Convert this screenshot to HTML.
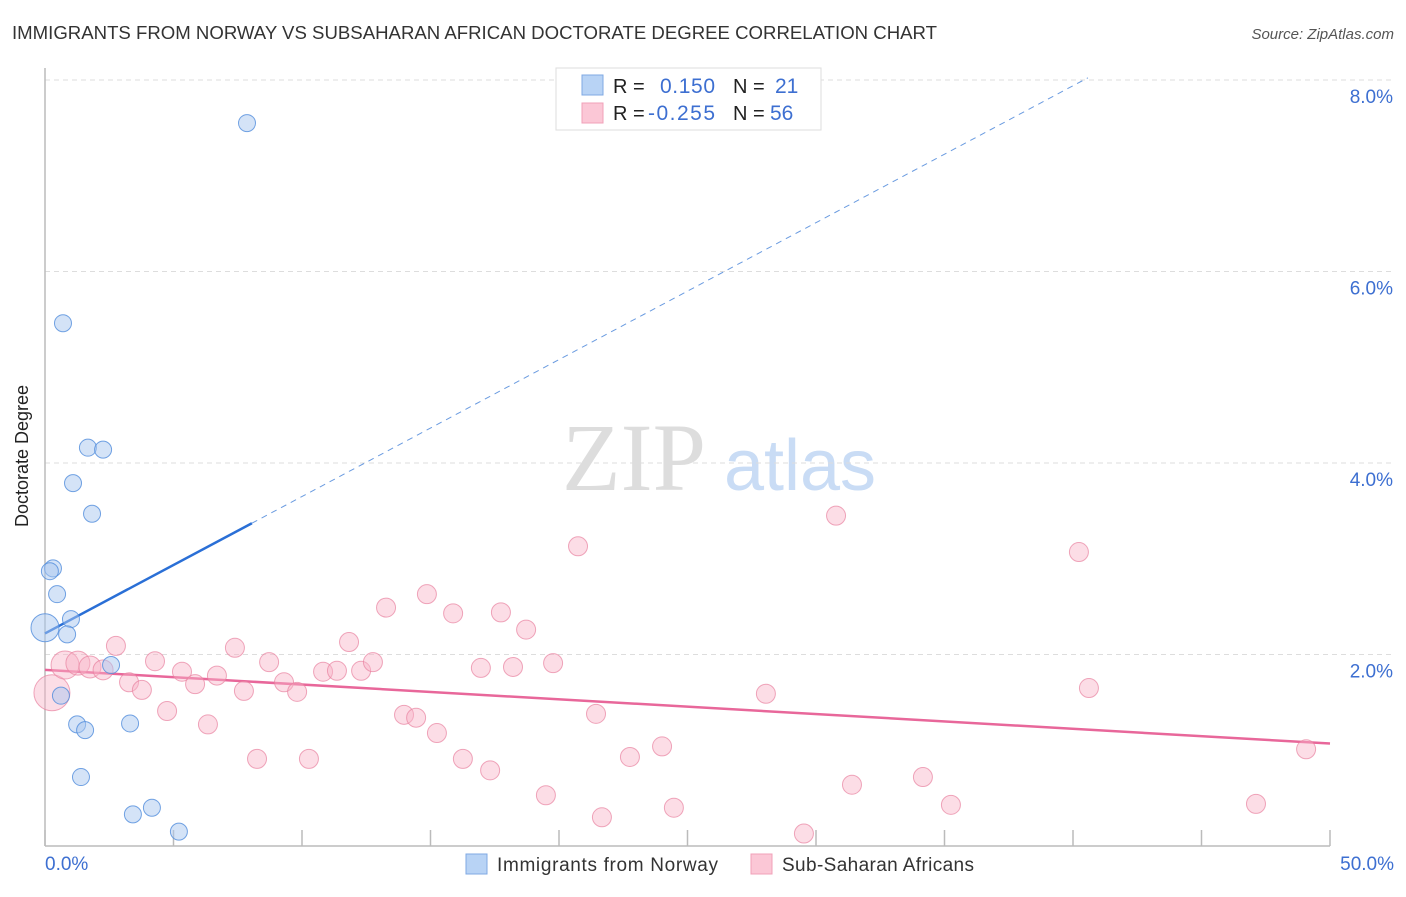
<!DOCTYPE html>
<html><head><meta charset="utf-8"><style>
body{margin:0;background:#fff;width:1406px;height:892px;overflow:hidden;font-family:"Liberation Sans",sans-serif}
</style></head><body>
<svg width="1406" height="892" xmlns="http://www.w3.org/2000/svg">
<text x="12" y="39" font-size="18.5" fill="#333" textLength="925" lengthAdjust="spacingAndGlyphs">IMMIGRANTS FROM NORWAY VS SUBSAHARAN AFRICAN DOCTORATE DEGREE CORRELATION CHART</text>
<text x="1394" y="39" font-size="15" fill="#555" font-style="italic" text-anchor="end">Source: ZipAtlas.com</text>
<g>
<text x="634" y="490" font-size="96" font-family="Liberation Serif,serif" fill="#ddd" text-anchor="middle">ZIP</text>
<text x="800" y="490" font-size="72" fill="#c9dcf5" text-anchor="middle">atlas</text>
</g>
<g id="grid"></g>
<g id="axes"></g>
<g id="lines"></g>
<g id="pts"></g>
<text x="28" y="456" font-size="18" fill="#222" text-anchor="middle" transform="rotate(-90 28 456)">Doctorate Degree</text>
<text x="45" y="870" font-size="19" fill="#3d6fd1">0.0%</text>
<text x="1394" y="870" font-size="19" fill="#3d6fd1" text-anchor="end">50.0%</text>
<g>
<rect x="556" y="68" width="265" height="62" fill="#fff" stroke="#ddd"/>
<rect x="582" y="75" width="21" height="20" fill="#b8d3f5" stroke="#7fa8e3"/>
<rect x="582" y="103" width="21" height="20" fill="#fbc7d6" stroke="#f0a0b8"/>
<text x="613" y="93" font-size="20" fill="#222">R =</text><text x="660" y="93" font-size="21" fill="#3d6fd1" textLength="55">0.150</text>
<text x="733" y="93" font-size="20" fill="#222">N =</text><text x="775" y="93" font-size="21" fill="#3d6fd1">21</text>
<text x="613" y="120" font-size="20" fill="#222">R =</text><text x="648" y="120" font-size="21" fill="#3d6fd1" textLength="67">-0.255</text>
<text x="733" y="120" font-size="20" fill="#222">N =</text><text x="770" y="120" font-size="21" fill="#3d6fd1">56</text>
</g>
<g>
<rect x="466" y="854" width="21" height="20" fill="#b8d3f5" stroke="#7fa8e3"/>
<text x="497" y="871" font-size="19" fill="#333" textLength="221">Immigrants from Norway</text>
<rect x="751" y="854" width="21" height="20" fill="#fbc7d6" stroke="#f0a0b8"/>
<text x="782" y="871" font-size="19" fill="#333" textLength="192">Sub-Saharan Africans</text>
</g>
</svg>
<script>
const yTicks=[2,4,6,8];
const yTickLabels=["2.0%","4.0%","6.0%","8.0%"];
const xTicks=[0,5,10,15,20,25,30,35,40,45,50];
const blueX=[7.86,0.70,1.67,2.26,1.09,1.83,0.31,0.19,0.47,1.01,0.86,0.0,2.57,0.62,1.25,1.56,3.31,1.40,3.42,4.16,5.21];
const blueY=[7.55,5.46,4.16,4.14,3.79,3.47,2.90,2.87,2.63,2.37,2.21,2.28,1.89,1.57,1.27,1.21,1.28,0.72,0.33,0.40,0.15];
const blueR=[8.5,8.5,8.5,8.5,8.5,8.5,8.5,8.5,8.5,8.5,8.5,14,8.5,8.5,8.5,8.5,8.5,8.5,8.5,8.5,8.5];
const pinkX=[0.27,0.78,1.28,1.75,2.26,2.76,3.27,3.77,4.28,4.75,5.33,5.84,6.34,6.69,7.39,7.74,8.25,8.72,9.30,9.81,10.27,10.82,11.36,11.83,12.30,12.76,13.27,13.97,14.44,14.86,15.25,15.88,16.26,16.96,17.32,17.74,18.21,18.72,19.49,19.77,20.74,21.44,21.67,22.76,24.01,24.47,28.05,29.53,30.78,31.40,34.16,35.25,40.23,40.62,47.12,49.07];
const pinkY=[1.60,1.89,1.91,1.87,1.84,2.09,1.71,1.63,1.93,1.41,1.82,1.69,1.27,1.78,2.07,1.62,0.91,1.92,1.71,1.61,0.91,1.82,1.83,2.13,1.83,1.92,2.49,1.37,1.34,2.63,1.18,2.43,0.91,1.86,0.79,2.44,1.87,2.26,0.53,1.91,3.13,1.38,0.30,0.93,1.04,0.40,1.59,0.13,3.45,0.64,0.72,0.43,3.07,1.65,0.44,1.01];
const pinkR=[18,14,12,11,10];
const blueFit=[2.22,0.143];
const pinkFit=[1.84,-0.0154];
const X=v=>45+v*25.7, Y=v=>846-v*95.75;
const NS="http://www.w3.org/2000/svg";
function mk(tag,attrs,parent){const e=document.createElementNS(NS,tag);for(const k in attrs)e.setAttribute(k,attrs[k]);document.getElementById(parent).appendChild(e);return e;}
yTicks.forEach((t,i)=>{
 const g=mk('line',{x1:45,x2:1395,y1:Y(t),y2:Y(t),stroke:'#ddd','stroke-dasharray':'5,4'},'grid');
 
 
 const l=mk('text',{x:1393,y:Y(t)+23,'font-size':19,fill:'#3d6fd1','text-anchor':'end'},'grid');
 l.textContent=yTickLabels[i];
 
 
});
const ax=mk('line',{x1:45,x2:45,y1:68,y2:846,stroke:'#bbb','stroke-width':1.5},'axes');


const bx=mk('line',{x1:45,x2:1330,y1:846,y2:846,stroke:'#bbb','stroke-width':1.5},'axes');


xTicks.forEach(t=>{
 const k=mk('line',{x1:X(t),x2:X(t),y1:830,y2:846,stroke:'#bbb','stroke-width':1.5},'axes');
 
 
});
const bs=mk('line',{x1:X(0),y1:Y(blueFit[0]),x2:X(8.05),y2:Y(blueFit[0]+blueFit[1]*8.05),stroke:'#2a6fd6','stroke-width':2.5},'lines');


const bd=mk('line',{x1:X(8.05),y1:Y(blueFit[0]+blueFit[1]*8.05),x2:X(40.58),y2:Y(blueFit[0]+blueFit[1]*40.58),stroke:'#6a9be0','stroke-width':1,'stroke-dasharray':'6,5'},'lines');


const pl=mk('line',{x1:X(0),y1:Y(pinkFit[0]),x2:X(50),y2:Y(pinkFit[0]+pinkFit[1]*50),stroke:'#e8679a','stroke-width':2.5},'lines');


pinkX.forEach((v,i)=>{
 const c=mk('circle',{cx:X(v),cy:Y(pinkY[i]),r:pinkR[i]||9.5,fill:'rgba(248,180,200,0.45)',stroke:'rgba(232,130,160,0.7)','stroke-width':1},'pts');
 
 
});
blueX.forEach((v,i)=>{
 const c=mk('circle',{cx:X(v),cy:Y(blueY[i]),r:blueR[i],fill:'rgba(170,200,240,0.5)',stroke:'rgba(80,140,220,0.8)','stroke-width':1},'pts');
 
 
});
</script>
</body></html>
